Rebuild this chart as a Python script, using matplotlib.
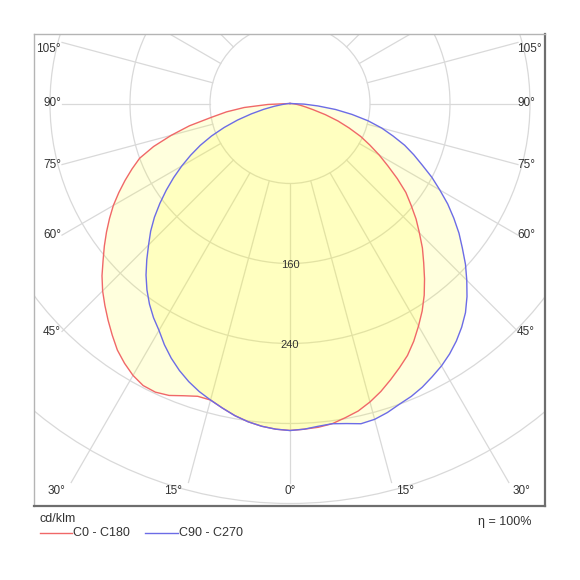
import numpy as np
import matplotlib.pyplot as plt
from matplotlib.patches import Circle

plt.rcParams['font.family'] = ['Liberation Sans', 'DejaVu Sans']

# gamma angle from nadir (deg) and intensity in cd/klm for each half plane
gamma = [0, 2.5, 5, 7.5, 10, 12.5, 15, 17.5, 20, 22.5, 25, 27.5, 30, 32.5,
         35, 37.5, 40, 42.5, 45, 47.5, 50, 52.5, 55, 57.5, 60, 62.5, 65,
         67.5, 70, 72.5, 75, 77.5, 80, 82.5, 85, 87.5, 90]

c180 = [327, 326, 324, 321, 317, 312, 307, 307, 311, 316, 318.5, 318, 314,
        308, 301, 292, 283, 274, 265, 255, 244, 234, 224, 214, 204, 193, 182,
        171, 160, 143, 123, 103, 80, 64, 46, 22, 0]
c0 = [327, 326, 325, 323, 319, 315, 309, 302, 294, 286, 278, 268, 257, 246,
      234, 221, 208, 196, 183, 171, 158, 146, 131, 116, 103, 90, 78, 64, 51,
      37, 24, 16, 11, 7, 4, 2, 0]
c270 = [327, 326, 324, 321, 317, 312, 307, 302, 296, 289, 281, 272, 262,
        254, 245, 235, 224, 212, 200, 189, 177, 164, 151, 138, 125, 112, 99,
        85, 70, 55, 40, 27, 16, 8, 4, 2, 0]
c90 = [327, 326, 324, 323, 325, 328, 327, 324, 320, 317, 313, 308, 303, 297,
       290, 282, 273, 262, 250, 238, 225, 213, 200, 187, 173, 160, 146, 134,
       122, 108, 95, 80, 63, 46, 28, 14, 0]

rings = [80, 160, 240, 320, 400, 480]
ring_labels = [160, 240]
spokes = [-165, -150, -135, -120, -105, -90, -75, -60, -45, -30, -15, 0,
          15, 30, 45, 60, 75, 90, 105, 120, 135, 150, 165, 180]

GRID = '#d9d9d9'
TEXT = '#333333'


def to_xy(gam, r, side):
    g = np.radians(np.asarray(gam, dtype=float))
    r = np.asarray(r, dtype=float)
    return side * r * np.sin(g), -r * np.cos(g)


def closed_curve(left, right):
    xl, yl = to_xy(gamma, left, -1)
    xr, yr = to_xy(gamma, right, 1)
    return np.concatenate([xl[::-1], xr]), np.concatenate([yl[::-1], yr])


fig = plt.figure(figsize=(5.8, 5.8), dpi=100)
ax = fig.add_axes([34 / 580, 74 / 580, 511 / 580, 472 / 580])
ax.set_xlim(-256, 255)
ax.set_ylim(-402.5, 69.5)
ax.set_xticks([])
ax.set_yticks([])
for name, sp in ax.spines.items():
    if name in ('left', 'top'):
        sp.set_color('#b4b4b4')
        sp.set_linewidth(1.0)
    else:
        sp.set_color('#6e6e6e')
        sp.set_linewidth(1.6)

# rings
for r in rings:
    ax.add_patch(Circle((0, 0), r, fill=False, edgecolor=GRID, lw=0.9, zorder=1))
for r in ring_labels:
    ax.text(0, -r - 2, str(r), ha='center', va='center', fontsize=8,
            color=TEXT, zorder=6)

# spokes with angle labels
side_x, bottom_y, top_y = 228, 379, 69.5
for a in spokes:
    g = np.radians(a)
    dx, dy = np.sin(g), -np.cos(g)
    ts = []
    if abs(dx) > 1e-9:
        ts.append(side_x / abs(dx))
    if dy < -1e-9:
        ts.append(bottom_y / -dy)
    if dy > 1e-9:
        ts.append(top_y / dy + 5)
    t = min(ts)
    ex, ey = t * dx, t * dy
    ax.plot([80 * dx, ex], [80 * dy, ey], color=GRID, lw=0.9, zorder=1)
    label = f"{abs(a)}°"
    if abs(abs(ex) - side_x) < 0.5 and ey < top_y:
        ly = min(ey, 54)
        if ex < 0:
            ax.text(-229, ly, label, ha='right', va='center', fontsize=8.5,
                    color=TEXT)
        else:
            ax.text(227, ly, label, ha='left', va='center', fontsize=8.5,
                    color=TEXT)
    elif dy < 0 and abs(ey + bottom_y) < 0.5:
        if abs(ex) < 1:
            ax.text(0, -387, label, ha='center', va='center', fontsize=8.5,
                    color=TEXT)
        elif ex < 0:
            ax.text(ex - 6, -387, label, ha='right', va='center',
                    fontsize=8.5, color=TEXT)
        else:
            ax.text(ex + 4, -387, label, ha='left', va='center',
                    fontsize=8.5, color=TEXT)

# curves
xa, ya = closed_curve(c180, c0)
xb, yb = closed_curve(c270, c90)
ax.fill(xa, ya, color='#ffff10', alpha=0.14, lw=0, zorder=2)
ax.fill(xb, yb, color='#ffff10', alpha=0.14, lw=0, zorder=2)
ax.plot(xa, ya, color='#f06868', lw=1.0, zorder=4)
ax.plot(xb, yb, color='#6c6ce6', lw=1.0, zorder=4)

# legend below the frame
ax.text(-250, -416, 'cd/klm', ha='left', va='center', fontsize=9,
        color=TEXT, clip_on=False)
ax.plot([-250, -218], [-429.5, -429.5], color='#f06868', lw=1.0,
        clip_on=False)
ax.text(-217, -429.5, 'C0 - C180', ha='left', va='center', fontsize=9,
        color=TEXT, clip_on=False)
ax.plot([-145, -112], [-429.5, -429.5], color='#6c6ce6', lw=1.0,
        clip_on=False)
ax.text(-111, -429.5, 'C90 - C270', ha='left', va='center', fontsize=9,
        color=TEXT, clip_on=False)
ax.text(242, -418, 'η = 100%', ha='right', va='center', fontsize=9,
        color=TEXT, clip_on=False)

fig.savefig('out.png', dpi=100)
